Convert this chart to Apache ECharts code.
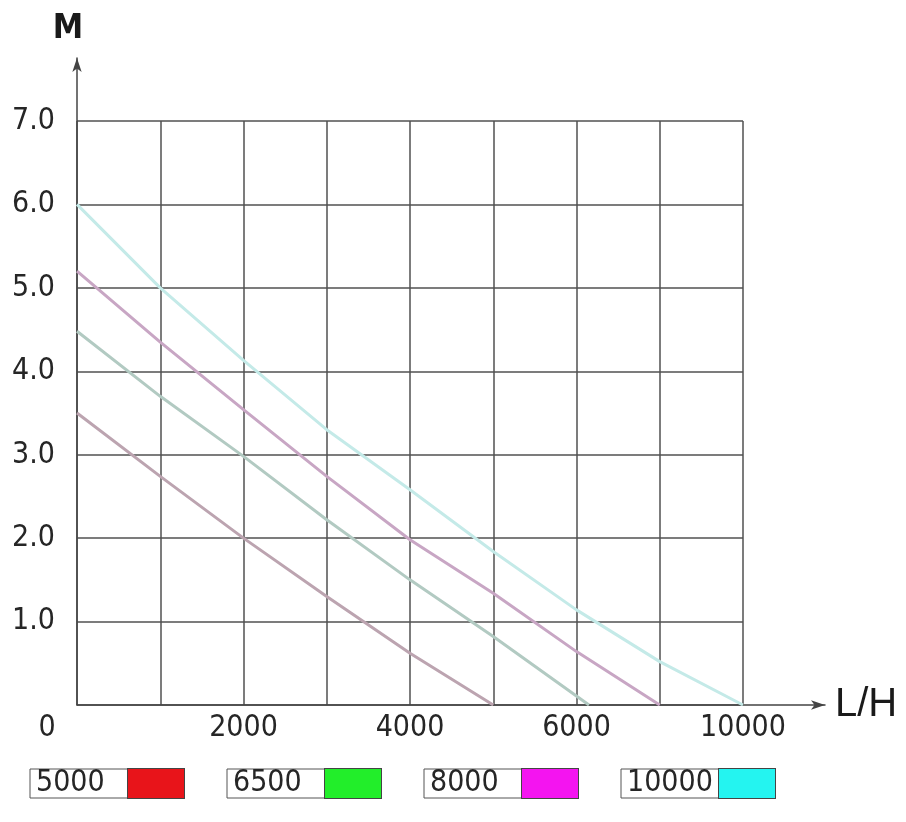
<!DOCTYPE html>
<html>
<head>
<meta charset="utf-8">
<script src="https://cdn.jsdelivr.net/npm/echarts@6/dist/echarts.min.js"></script>
<style>
html,body{margin:0;padding:0;background:#fff;}
#c{width:906px;height:822px;}
</style>
</head>
<body>
<div id="c"></div>
<script>
// ---- data ----
const xTickLabels = ['0', '', '2000', '', '4000', '', '6000', '', '10000'];
const yTickLabels = ['', '1.0', '2.0', '3.0', '4.0', '5.0', '6.0', '7.0'];
const seriesNames = ['5000', '6500', '8000', '10000'];

const flow5000  = [0, 1000, 2000, 3000, 4000, 5000];
const head5000  = [3.5, 2.74, 2.0, 1.3, 0.62, 0];
const flow6500  = [0, 1000, 2000, 3000, 4000, 5000, 6150];
const head6500  = [4.48, 3.7, 2.98, 2.22, 1.5, 0.82, 0];
const flow8000  = [0, 1000, 2000, 3000, 4000, 5000, 6000, 7000];
const head8000  = [5.2, 4.35, 3.54, 2.74, 1.98, 1.34, 0.64, 0];
const flow10000 = [0, 1000, 2000, 3000, 4000, 5000, 6000, 7000, 8000];
const head10000 = [6.0, 5.0, 4.13, 3.3, 2.58, 1.84, 1.14, 0.52, 0];

const flows = [flow5000, flow6500, flow8000, flow10000];
const heads = [head5000, head6500, head8000, head10000];

// ---- styles ----
const lineColors = ['#bca4b0', '#b2cac2', '#c8a6c4', '#c4eae8'];
const legendColors = ['#e8141a', '#22ee2a', '#f414f0', '#24f4f0'];
const FONT = '"Liberation Sans Narrow", "DejaVu Sans Condensed", "Liberation Sans", sans-serif';
const TXT = '#262626';

const chart = echarts.init(document.getElementById('c'), null, {renderer: 'canvas'});

const series = seriesNames.map((name, i) => ({
  name: name,
  type: 'line',
  xAxisIndex: 0,
  yAxisIndex: 0,
  showSymbol: false,
  symbol: 'none',
  smooth: false,
  data: flows[i].map((f, j) => [f, heads[i][j]]),
  lineStyle: {color: lineColors[i], width: 3},
  itemStyle: {color: lineColors[i]},
  z: 3
}));

const legendRich = {
  t: {width: 92, height: 29, lineHeight: 29, fontSize: 30, fontFamily: FONT, color: TXT, padding: [0, 0, 0, 6]}
};
legendColors.forEach((c, i) => {
  legendRich['c' + i] = {width: 56, height: 29, backgroundColor: c, borderColor: '#444', borderWidth: 1};
});

chart.setOption({
  backgroundColor: '#ffffff',
  animation: false,
  grid: [
    {left: 77, right: 163, top: 121, bottom: 117},
    {left: 77, right: 81, top: 58, bottom: 117}
  ],
  xAxis: [
    {
      gridIndex: 0, type: 'value', min: 0, max: 8000, interval: 1000,
      axisLine: {show: false}, axisTick: {show: false},
      splitLine: {show: true, lineStyle: {color: '#505050', width: 1.5}},
      axisLabel: {
        margin: 8, fontSize: 30, fontFamily: FONT, color: TXT,
        showMinLabel: true, showMaxLabel: true,
        formatter: v => {
          const s = xTickLabels[Math.round(v / 1000)] || '';
          return v === 0 ? '{o|' + s + '}' : s;
        },
        rich: {o: {fontSize: 30, fontFamily: FONT, color: TXT, padding: [0, 60, 0, 0]}}
      }
    },
    {
      gridIndex: 1, type: 'value', min: 0, max: 9000,
      axisLine: {show: true, symbol: ['none', 'arrow'], symbolSize: [7, 14], lineStyle: {color: '#444', width: 1.5}},
      axisTick: {show: false}, axisLabel: {show: false}, splitLine: {show: false},
      name: 'L/H', nameLocation: 'end', nameGap: 10,
      nameTextStyle: {fontSize: 40, fontFamily: '"Liberation Sans", sans-serif', color: '#1a1a1a', verticalAlign: 'middle', padding: [8, 0, 0, 0]}
    }
  ],
  yAxis: [
    {
      gridIndex: 0, type: 'value', min: 0, max: 7, interval: 1,
      axisLine: {show: false}, axisTick: {show: false},
      splitLine: {show: true, lineStyle: {color: '#505050', width: 1.5}},
      axisLabel: {
        margin: 22, fontSize: 30, fontFamily: FONT, color: TXT,
        formatter: v => yTickLabels[Math.round(v)] || ''
      }
    },
    {
      gridIndex: 1, type: 'value', min: 0, max: 7.75,
      axisLine: {show: true, symbol: ['none', 'arrow'], symbolSize: [7, 14], lineStyle: {color: '#444', width: 1.5}},
      axisTick: {show: false}, axisLabel: {show: false}, splitLine: {show: false},
      name: 'M', nameLocation: 'end', nameGap: 12,
      nameTextStyle: {fontSize: 34, fontWeight: 'bold', fontFamily: FONT, color: '#1a1a1a', align: 'center', verticalAlign: 'bottom', padding: [0, 18, 0, 0]}
    }
  ],
  legend: {
    show: true,
    left: 20, top: 763,
    orient: 'horizontal',
    itemWidth: 0, itemHeight: 0, itemGap: 37,
    icon: 'rect',
    selectedMode: false,
    data: seriesNames,
    formatter: name => '{t|' + name + '}{c' + seriesNames.indexOf(name) + '|}',
    textStyle: {borderColor: '#555', borderWidth: 1, rich: legendRich}
  },
  series: series
});
</script>
</body>
</html>
